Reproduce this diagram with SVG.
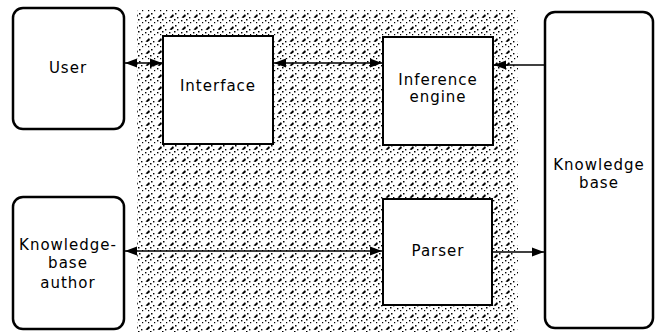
<svg xmlns="http://www.w3.org/2000/svg" width="661" height="332" viewBox="0 0 661 332">
  <style>
    .rbox { fill: #fff; stroke: #000; stroke-width: 2.5; }
    .box { fill: #fff; stroke: #000; stroke-width: 2; }
    .lbl { font-family: "DejaVu Sans", "Liberation Sans", sans-serif; font-size: 15px; letter-spacing: 1px; fill: #000; text-anchor: middle; }
    .conn { stroke: #000; stroke-width: 1.6; fill: none; }
  </style>
  <defs>
    <pattern id="stipple" width="12" height="12" patternUnits="userSpaceOnUse">
      <path d="M1.5 5.5 L5 2 L6 4 L3.5 6 Z" fill="#000"/>
      <rect x="7" y="1" width="1.5" height="1.5" fill="#000"/>
      <rect x="9" y="5" width="1.4" height="1.4" fill="#000"/>
      <rect x="1" y="8" width="1.4" height="1.4" fill="#000"/>
      <rect x="6" y="7" width="1.5" height="1.5" fill="#000"/>
      <rect x="10" y="10" width="1.2" height="1.2" fill="#000"/>
      <rect x="4" y="10" width="1.2" height="1.2" fill="#000"/>
    </pattern>
    <marker id="arrow" markerUnits="userSpaceOnUse" markerWidth="14" markerHeight="10" refX="12" refY="5" orient="auto-start-reverse">
      <path d="M0 0.5 L12 5 L0 9.5 Z" fill="#000"/>
    </marker>
  </defs>

  <!-- shaded system boundary -->
  <rect id="system" x="137" y="10" width="381" height="322" fill="url(#stipple)"/>

  <g id="user">
    <rect class="rbox" x="13" y="8" width="111" height="121" rx="10"/>
    <text class="lbl" x="68" y="73">User</text>
  </g>

  <g id="kb-author">
    <rect class="rbox" x="13" y="197" width="111" height="132" rx="10"/>
    <text class="lbl" x="68" y="250">Knowledge-</text>
    <text class="lbl" x="68" y="268">base</text>
    <text class="lbl" x="68" y="288">author</text>
  </g>

  <g id="knowledge-base">
    <rect class="rbox" x="545" y="12" width="108" height="316" rx="10"/>
    <text class="lbl" x="599" y="170">Knowledge</text>
    <text class="lbl" x="599" y="188">base</text>
  </g>

  <g id="interface">
    <rect class="box" x="163" y="36" width="110" height="108"/>
    <text class="lbl" x="218" y="91">Interface</text>
  </g>

  <g id="inference-engine">
    <rect class="box" x="383" y="37" width="110" height="108"/>
    <text class="lbl" x="438" y="85">Inference</text>
    <text class="lbl" x="438" y="102">engine</text>
  </g>

  <g id="parser">
    <rect class="box" x="383" y="199" width="109" height="106"/>
    <text class="lbl" x="438" y="256">Parser</text>
  </g>

  <g id="connectors">
    <line class="conn" x1="125" y1="63" x2="162" y2="63" marker-start="url(#arrow)" marker-end="url(#arrow)"/>
    <line class="conn" x1="274" y1="63" x2="382" y2="63" marker-start="url(#arrow)" marker-end="url(#arrow)"/>
    <line class="conn" x1="544" y1="65" x2="494" y2="65" marker-end="url(#arrow)"/>
    <line class="conn" x1="125" y1="251" x2="382" y2="251" marker-start="url(#arrow)" marker-end="url(#arrow)"/>
    <line class="conn" x1="493" y1="252" x2="544" y2="252" marker-end="url(#arrow)"/>
  </g>
</svg>
